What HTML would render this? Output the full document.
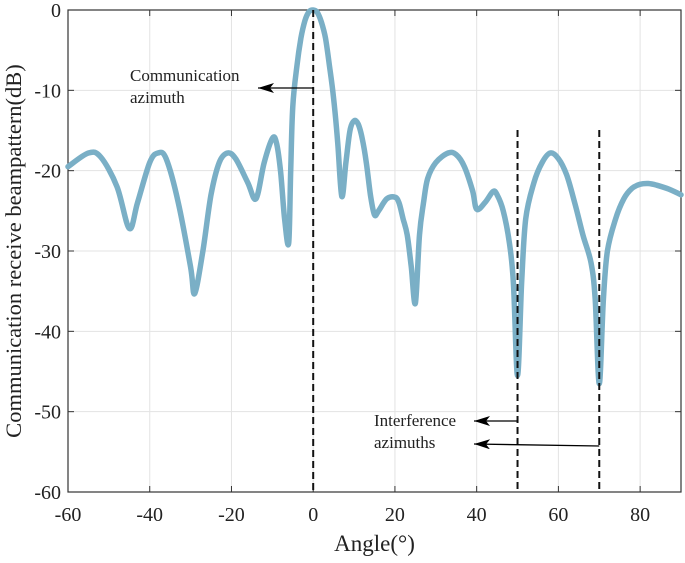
<!DOCTYPE html>
<html><head><meta charset="utf-8"><style>
body{margin:0;background:#fff}
svg{font-family:"Liberation Serif",serif}
</style></head><body>
<svg id="chart" width="685" height="558" viewBox="0 0 685 558">
<defs><marker id="ah" viewBox="0 0 16 10" refX="16" refY="5" markerUnits="userSpaceOnUse" markerWidth="16" markerHeight="10" orient="auto"><path d="M0,0 L16,5 L0,10 L4,5 Z" fill="#000"/></marker></defs>
<g id="grid"></g><g id="ticks"></g><g id="series"></g><g id="annot"></g>
</svg>
<script>
const angles=[-60,-55,-52,-48,-45,-43,-40,-38,-36,-33,-30,-29,-27,-25,-23,-21,-19,-16,-14,-12,-10,-9,-8,-7,-6,-5.5,-5,-4,-3,-2,-1,0,1,2,3,4,5,6,7,8,9,10,11,12,13,14,15,16,18,20,21,22,23,24,25,26,27,28,30,33,35,37,39,40,42,44,45,46.5,48,49,50,51,52,54,56,58,60,62,64,66,68,69,70,71,72,74,76,78,80,82,84,87,90];
const gains=[-19.5,-17.8,-18.3,-22,-27.2,-24,-19,-17.8,-18.5,-24,-32,-35.3,-30,-23,-19,-17.8,-18.5,-21.5,-23.5,-19,-16,-16.5,-20,-26,-29,-20,-12,-7,-3.5,-1.3,-0.2,0,-0.3,-1.5,-3.5,-7,-11,-16.5,-23.2,-19,-15,-13.8,-14.2,-16,-19,-23,-25.5,-25,-23.5,-23.3,-24,-26,-28,-32,-36.5,-28,-24,-21,-19,-17.8,-18,-19.5,-22.5,-24.8,-24,-22.6,-23,-25,-29,-34,-45.5,-34,-26,-21.5,-19,-17.8,-18.5,-20.5,-24,-28,-31.5,-36,-46.5,-36,-30,-26,-23.5,-22.2,-21.7,-21.6,-21.8,-22.3,-23];
const xTicks=[-60,-40,-20,0,20,40,60,80];
const yTicks=[0,-10,-20,-30,-40,-50,-60];
const markers=[0,50,70];
const L=68,R=681,T=10,B=492;
const X=a=>L+(a+60)/150*(R-L);
const Y=v=>T+(-v)/60*(B-T);
const NS="http://www.w3.org/2000/svg";
function mk(p,tag,at){const e=document.createElementNS(NS,tag);for(const k in at)e.setAttribute(k,at[k]);p.appendChild(e);return e;}
const grid=document.getElementById('grid'),ticks=document.getElementById('ticks'),ser=document.getElementById('series'),an=document.getElementById('annot');
xTicks.forEach(t=>{
 const g=mk(grid,'line',{x1:X(t),x2:X(t),y1:T,y2:B,stroke:'#e3e3e3','stroke-width':1});
 
 mk(ticks,'line',{x1:X(t),x2:X(t),y1:B,y2:B-6,stroke:'#333'});
 mk(ticks,'line',{x1:X(t),x2:X(t),y1:T,y2:T+6,stroke:'#333'});
 const tx=mk(ticks,'text',{x:X(t),y:B+29,'text-anchor':'middle','font-size':20,fill:'#222'});tx.textContent=t;
 
});
yTicks.forEach(t=>{
 const g=mk(grid,'line',{x1:L,x2:R,y1:Y(t),y2:Y(t),stroke:'#e3e3e3','stroke-width':1});
 
 mk(ticks,'line',{x1:L,x2:L+6,y1:Y(t),y2:Y(t),stroke:'#333'});
 mk(ticks,'line',{x1:R,x2:R-6,y1:Y(t),y2:Y(t),stroke:'#333'});
 const tx=mk(ticks,'text',{x:L-7,y:Y(t)+7,'text-anchor':'end','font-size':20,fill:'#222'});tx.textContent=t;
 
});
const box=mk(ticks,'rect',{x:L,y:T,width:R-L,height:B-T,fill:'none',stroke:'#333','stroke-width':1.2});

const xl=mk(ticks,'text',{x:(L+R)/2,y:551,'text-anchor':'middle','font-size':23,fill:'#222'});xl.textContent='Angle(°)';

const yl=mk(ticks,'text',{x:0,y:0,transform:`translate(21,${(T+B)/2}) rotate(-90)`,'text-anchor':'middle','font-size':22.5,fill:'#222'});yl.textContent='Communication receive beampattern(dB)';

markers.forEach(m=>{
 const l=mk(an,'line',{x1:X(m),x2:X(m),y1:m===0?Y(0):130,y2:B,stroke:'#111','stroke-width':2,'stroke-dasharray':'7,4'});
 
});
const pts=angles.map((a,i)=>[X(a),Y(gains[i])]);
let d='M'+pts[0][0].toFixed(1)+','+pts[0][1].toFixed(1);
for(let i=0;i<pts.length-1;i++){
 const p0=pts[i-1]||pts[i],p1=pts[i],p2=pts[i+1],p3=pts[i+2]||p2;
 const c1=[p1[0]+(p2[0]-p0[0])/6,p1[1]+(p2[1]-p0[1])/6],c2=[p2[0]-(p3[0]-p1[0])/6,p2[1]-(p3[1]-p1[1])/6];
 d+=` C${c1[0].toFixed(1)},${c1[1].toFixed(1)} ${c2[0].toFixed(1)},${c2[1].toFixed(1)} ${p2[0].toFixed(1)},${p2[1].toFixed(1)}`;
}
const p=mk(ser,'path',{d:d,fill:'none',stroke:'#7aafc6','stroke-width':5.5,'stroke-linejoin':'round','stroke-linecap':'round'});

function arrow(x1,y1,x2,y2,name){const a=mk(an,'line',{x1,y1,x2,y2,stroke:'#000','stroke-width':1.3,'marker-end':'url(#ah)'});}
arrow(X(0),88,258,88,'communication-arrow');
arrow(X(50),421,474,421,'interference-arrow-50');
arrow(X(70),446,474,444,'interference-arrow-70');
function txt(x,y,s,name){const t=mk(an,'text',{x,y,'font-size':17,fill:'#222'});t.textContent=s;}
txt(130,81,'Communication','communication-label');
txt(130,103,'azimuth','communication-label-2');
txt(374,426,'Interference','interference-label');
txt(374,448,'azimuths','interference-label-2');
</script>
</body></html>
